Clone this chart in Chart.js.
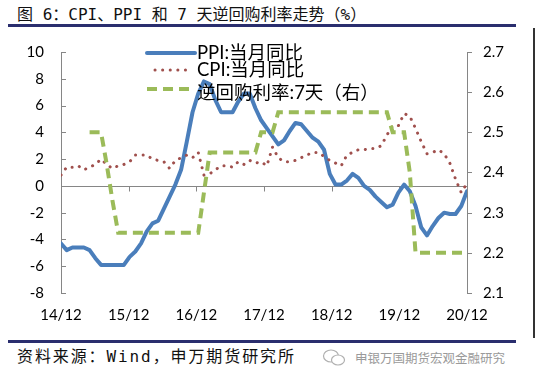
<!DOCTYPE html>
<html><head><meta charset="utf-8">
<script src="https://cdn.jsdelivr.net/npm/chart.js@4.4.0/dist/chart.umd.min.js"></script>
<style>
html,body{margin:0;padding:0;background:#fff;}
#wrap{position:relative;width:536px;height:382px;overflow:hidden;background:#fff;}
#title{position:absolute;left:17px;top:5px;height:20px;line-height:20px;font-size:16px;font-family:'DejaVu Sans Mono','Noto Sans CJK SC';letter-spacing:0px;color:#111;white-space:nowrap;}
.rule{position:absolute;left:8px;width:508px;height:3px;background:#2a2e6e;}
#src{position:absolute;left:17px;top:347px;height:20px;line-height:20px;font-size:16px;font-family:'DejaVu Sans Mono','Noto Sans CJK SC';letter-spacing:1.9px;color:#111;white-space:nowrap;}
#wm{position:absolute;left:355px;top:349px;height:18px;line-height:18px;font-size:12.5px;font-family:'Noto Sans CJK SC';color:#9a9a9a;white-space:nowrap;}
#icon{position:absolute;left:322px;top:348px;}
#edge{position:absolute;left:533px;top:28px;width:2px;height:310px;background:#333;}
#cv{position:absolute;left:0;top:26px;}
</style></head>
<body><div id="wrap">
<div id="title">图 6：CPI、PPI 和 7 天逆回购利率走势（%）</div>
<div class="rule" style="top:24px"></div>
<div id="edge"></div>
<canvas id="cv" width="536" height="304" style="width:536px;height:304px"></canvas>
<div class="rule" style="top:340px"></div>
<div id="src">资料来源：Wind，申万期货研究所</div>
<svg id="icon" width="26" height="20" viewBox="0 0 26 20"><ellipse cx="9" cy="8" rx="7.5" ry="6" fill="none" stroke="#b0b0b0" stroke-width="1.2"/><ellipse cx="16" cy="12" rx="6.5" ry="5" fill="#fff" stroke="#b0b0b0" stroke-width="1.2"/></svg>
<div id="wm">申银万国期货宏观金融研究</div>
</div>
<script>
// Monthly data Jan 2015 – Dec 2020
const tickLabels = ['14/12','15/12','16/12','17/12','18/12','19/12','20/12'];
const ppi = [
 -4.3,-4.8,-4.6,-4.6,-4.6,-4.8,-5.4,-5.9,-5.9,-5.9,-5.9,-5.9,
 -5.3,-4.9,-4.3,-3.4,-2.8,-2.6,-1.7,-0.8,0.1,1.2,3.3,5.5,
 6.9,7.8,7.6,6.4,5.5,5.5,5.5,6.3,6.9,6.9,5.8,4.9,
 4.3,3.7,3.1,3.4,4.1,4.7,4.6,4.1,3.6,3.3,2.7,0.9,
 0.1,0.1,0.4,0.9,0.6,0.0,-0.3,-0.8,-1.2,-1.6,-1.4,-0.5,
 0.1,-0.4,-1.5,-3.1,-3.7,-3.0,-2.4,-2.0,-2.1,-2.1,-1.5,-0.4];
const cpi = [
 0.8,1.4,1.4,1.5,1.2,1.4,1.6,2.0,1.6,1.3,1.5,1.6,
 1.8,2.3,2.3,2.3,2.0,1.9,1.8,1.3,1.9,2.1,2.3,2.1,
 2.5,0.8,0.9,1.2,1.5,1.5,1.4,1.8,1.6,1.9,1.7,1.8,
 1.5,2.9,2.1,1.8,1.8,1.9,2.1,2.3,2.5,2.5,2.2,1.9,
 1.7,1.5,2.3,2.5,2.7,2.7,2.8,2.8,3.0,3.8,4.5,4.5,
 5.4,5.2,4.3,3.3,2.4,2.5,2.7,2.4,1.7,0.5,-0.5,0.2];
const repo7d = [
 null,null,null,null,null,2.5,2.5,2.5,2.42,2.33,2.25,2.25,
 2.25,2.25,2.25,2.25,2.25,2.25,2.25,2.25,2.25,2.25,2.25,2.25,
 2.25,2.35,2.45,2.45,2.45,2.45,2.45,2.45,2.45,2.45,2.45,2.5,
 2.5,2.5,2.55,2.55,2.55,2.55,2.55,2.55,2.55,2.55,2.55,2.55,
 2.55,2.55,2.55,2.55,2.55,2.55,2.55,2.55,2.55,2.55,2.5,2.5,
 2.5,2.4,2.2,2.2,2.2,2.2,2.2,2.2,2.2,2.2,2.2,2.2];
const seriesNames = ['PPI:当月同比','CPI:当月同比','逆回购利率:7天（右）'];

const pts = arr => arr.map((v,i)=>({x:i,y:v}));
const AX = '#868686';
const lastIdx = ppi.length - 1;
const CANVAS_TOP = 26;

const decor = {
  id:'decor',
  beforeDatasetsDraw(chart){
    const {ctx, chartArea:a, scales:{x,y,y1}} = chart;
    ctx.save();
    ctx.strokeStyle = AX; ctx.lineWidth = 1;
    const z = Math.round(y.getPixelForValue(0)) + 0.5;
    ctx.beginPath(); ctx.moveTo(a.left, z); ctx.lineTo(a.right, z); ctx.stroke();
    ctx.beginPath();
    x.ticks.forEach(t=>{ const px = Math.round(x.getPixelForValue(t.value))+0.5; ctx.moveTo(px, z); ctx.lineTo(px, z+5); });
    y.ticks.forEach(t=>{ const py = Math.round(y.getPixelForValue(t.value))+0.5; ctx.moveTo(a.left, py); ctx.lineTo(a.left+5, py); });
    y1.ticks.forEach(t=>{ const py = Math.round(y1.getPixelForValue(t.value))+0.5; ctx.moveTo(a.right, py); ctx.lineTo(a.right+5, py); });
    ctx.stroke();
    ctx.restore();
  },
  afterDraw(chart){
    const ctx = chart.ctx;
    const rows = [53, 70, 89].map(v=>v-CANVAS_TOP);
    ctx.save();
    chart.data.datasets.forEach((ds,i)=>{
      const yy = rows[i];
      ctx.strokeStyle = ds.borderColor; ctx.lineWidth = ds.borderWidth;
      ctx.setLineDash(ds.borderDash || []); ctx.lineCap = ds.borderCapStyle || 'butt';
      ctx.beginPath();
      const x0 = i===1 ? 155 : 147, x1 = i===1 ? 190 : 195;
      ctx.moveTo(x0, yy); ctx.lineTo(x1, yy); ctx.stroke();
      ctx.setLineDash([]);
      ctx.fillStyle = '#000';
      ctx.font = '18.5px Lato, "Noto Sans CJK SC"';
      ctx.textBaseline = 'middle'; ctx.textAlign = 'left';
      ctx.fillText(ds.label, 197, yy + (i===2 ? 4 : 0));
    });
    ctx.restore();
  }
};

new Chart(document.getElementById('cv'), {
  type:'line',
  data:{ datasets:[
    {label:seriesNames[0], data:pts(ppi), yAxisID:'y', borderColor:'#4a7ebb', borderWidth:4, pointRadius:0, borderJoinStyle:'round', borderCapStyle:'round', order:3, tension:0},
    {label:seriesNames[1], data:pts(cpi), yAxisID:'y', borderColor:'#a0504d', borderWidth:3, borderDash:[0.1,7.5], borderCapStyle:'round', pointRadius:0, order:2, tension:0},
    {label:seriesNames[2], data:pts(repo7d), yAxisID:'y1', borderColor:'#9bbb59', borderWidth:4, borderDash:[10,6], borderCapStyle:'butt', pointRadius:0, order:1, tension:0, spanGaps:false}
  ]},
  options:{
    responsive:false, animation:false, events:[],
    layout:{padding:{top:14,left:0,right:0,bottom:0}},
    plugins:{legend:{display:false}, tooltip:{enabled:false}, title:{display:false}},
    scales:{
      x:{type:'linear', min:0, max:lastIdx,
        grid:{display:false, drawTicks:false}, border:{display:false},
        afterBuildTicks(s){ s.ticks = tickLabels.map((t,k)=>({value:k*lastIdx/(tickLabels.length-1)})); },
        ticks:{autoSkip:false, maxRotation:0, padding:13, color:'#000', font:{family:'Lato', size:15},
          callback:(v,i)=>tickLabels[i]},
        afterFit(s){ s.height = 37; }
      },
      y:{position:'left', min:-8, max:10,
        grid:{display:false, drawTicks:false}, border:{display:true, color:AX, width:1},
        ticks:{stepSize:2, padding:17, color:'#000', font:{family:'Lato', size:15}},
        afterFit(s){ s.width = 61; }
      },
      y1:{position:'right', min:2.1, max:2.7,
        grid:{display:false, drawTicks:false}, border:{display:true, color:AX, width:1},
        ticks:{stepSize:0.1, padding:16, color:'#000', font:{family:'Lato', size:15}, callback:v=>Number(v).toFixed(1)},
        afterFit(s){ s.width = 69; }
      }
    }
  },
  plugins:[decor]
});
</script>
</body></html>
